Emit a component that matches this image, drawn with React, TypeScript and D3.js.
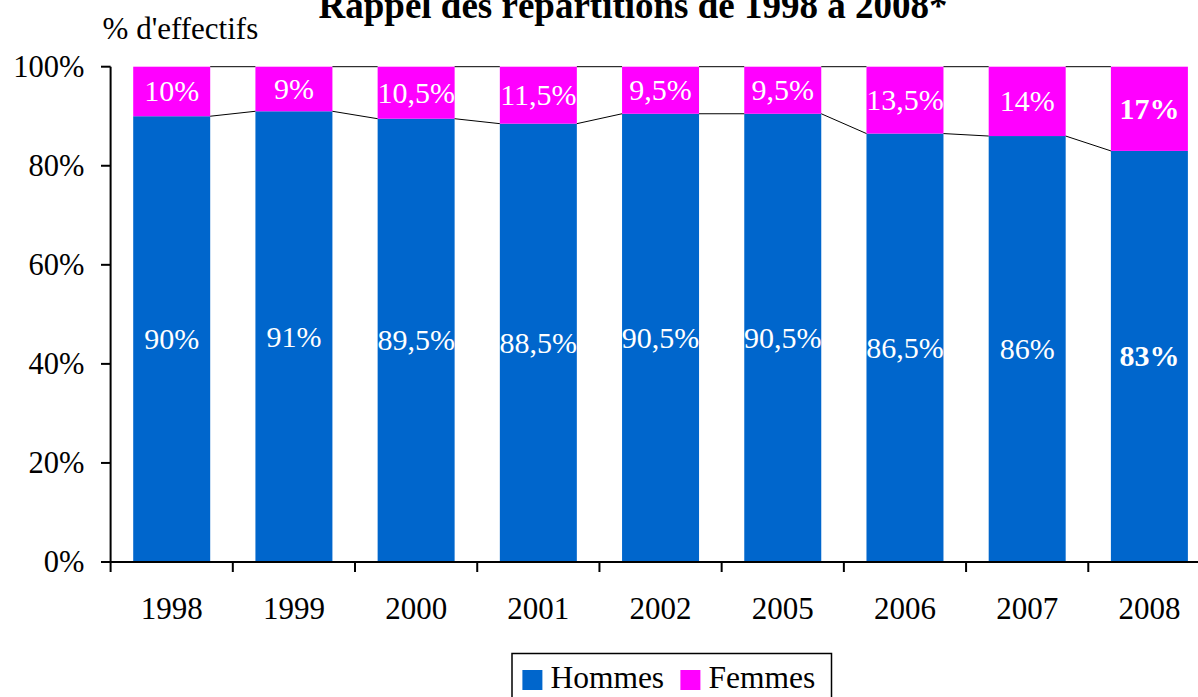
import React, { useEffect, useRef } from 'react';
import * as d3 from 'd3';

const years = ['1998', '1999', '2000', '2001', '2002', '2005', '2006', '2007', '2008'];
const hommes = [90, 91, 89.5, 88.5, 90.5, 90.5, 86.5, 86, 83];
const femmes = [10, 9, 10.5, 11.5, 9.5, 9.5, 13.5, 14, 17];
const yTicks = [0, 20, 40, 60, 80, 100];
const series = ['Hommes', 'Femmes'];
const colors = ['#0066CC', '#FF00FF'];

const fmt = (v: number) => String(v).replace('.', ',') + '%';

const App = () => {
  const ref = useRef<HTMLDivElement | null>(null);

  useEffect(() => {
    if (!ref.current) return;
    d3.select(ref.current).selectAll('*').remove();

    const W = 1198;
    const H = 697;
    const font = '"Liberation Serif", "Times New Roman", serif';

    const svg = d3
      .select(ref.current)
      .append('svg')
      .attr('width', W)
      .attr('height', H)
      .style('position', 'absolute')
      .style('left', 0)
      .style('top', 0)
      .style('font-family', font);

    const x = d3.scaleBand().domain(years).range([110.6, 1210.5]).paddingInner(0.37).paddingOuter(0.185);
    const y = d3.scaleLinear().domain([0, 100]).range([562, 66.7]);
    const bw = x.bandwidth();
    const gap = (x.step() - bw) / 2;

    // title (cut at the top like the original)
    svg
      .append('text')
      .attr('x', 633)
      .attr('y', 18)
      .attr('text-anchor', 'middle')
      .style('font-size', '37px')
      .style('font-weight', 'bold')
      .text('Rappel des répartitions de 1998 à 2008*');

    svg
      .append('text')
      .attr('x', 102.6)
      .attr('y', 39)
      .style('font-size', '31px')
      .text("% d'effectifs");

    // bars
    const rows = years.map((yr, i) => ({ yr, h: hommes[i], f: femmes[i], bold: yr === '2008' }));

    svg
      .selectAll('.h')
      .data(rows)
      .join('rect')
      .attr('x', d => x(d.yr)!)
      .attr('y', d => y(d.h))
      .attr('width', bw)
      .attr('height', d => y(0) - y(d.h))
      .attr('fill', colors[0]);

    svg
      .selectAll('.f')
      .data(rows)
      .join('rect')
      .attr('x', d => x(d.yr)!)
      .attr('y', d => y(d.h + d.f))
      .attr('width', bw)
      .attr('height', d => y(d.h) - y(d.h + d.f))
      .attr('fill', colors[1]);

    // series lines between bars
    const lines = svg.append('g').attr('stroke', '#000').attr('stroke-width', 1).attr('fill', 'none');
    rows.slice(0, -1).forEach((d, i) => {
      const n = rows[i + 1];
      lines
        .append('line')
        .attr('x1', x(d.yr)! + bw)
        .attr('x2', x(n.yr)!)
        .attr('y1', y(d.h))
        .attr('y2', y(n.h));
      lines
        .append('line')
        .attr('x1', x(d.yr)! + bw)
        .attr('x2', x(n.yr)!)
        .attr('y1', y(d.h + d.f))
        .attr('y2', y(n.h + n.f));
    });

    // labels
    const lab = svg.append('g').attr('fill', '#fff').attr('text-anchor', 'middle').style('font-size', '30px');
    rows.forEach(d => {
      const cx = x(d.yr)! + bw / 2;
      lab
        .append('text')
        .attr('x', cx)
        .attr('y', (y(0) + y(d.h)) / 2 + 10)
        .style('font-weight', d.bold ? 'bold' : 'normal')
        .text(fmt(d.h));
      lab
        .append('text')
        .attr('x', cx)
        .attr('y', (y(d.h) + y(d.h + d.f)) / 2 + 10)
        .style('font-weight', d.bold ? 'bold' : 'normal')
        .text(fmt(d.f));
    });

    // y axis
    const ax = svg.append('g').attr('stroke', '#000').attr('stroke-width', 2);
    ax.append('line').attr('x1', 110.6).attr('x2', 110.6).attr('y1', y(100)).attr('y2', y(0));
    yTicks.forEach(t => {
      ax.append('line').attr('x1', 101).attr('x2', 110.6).attr('y1', y(t)).attr('y2', y(t));
    });
    svg
      .selectAll('.yt')
      .data(yTicks)
      .join('text')
      .attr('x', 84.5)
      .attr('y', d => y(d) + 10)
      .attr('text-anchor', 'end')
      .style('font-size', '30.5px')
      .text(d => d + '%');

    // x axis
    ax.append('line').attr('x1', 110.6).attr('x2', 1210.5).attr('y1', y(0)).attr('y2', y(0));
    years.forEach(yr => {
      const bx = x(yr)! - gap;
      ax.append('line').attr('x1', bx).attr('x2', bx).attr('y1', y(0)).attr('y2', y(0) + 10);
    });
    svg
      .selectAll('.xt')
      .data(years)
      .join('text')
      .attr('x', d => x(d)! + bw / 2)
      .attr('y', 619)
      .attr('text-anchor', 'middle')
      .style('font-size', '31px')
      .text(d => d);

    // legend
    const lg = svg.append('g');
    lg.append('rect')
      .attr('x', 512)
      .attr('y', 653.5)
      .attr('width', 319.5)
      .attr('height', 60)
      .attr('fill', '#fff')
      .attr('stroke', '#000')
      .attr('stroke-width', 1.5);
    const lx = [522.4, 680.4];
    series.forEach((s, i) => {
      lg.append('rect').attr('x', lx[i]).attr('y', 670).attr('width', 20).attr('height', 20).attr('fill', colors[i]);
      lg.append('text')
        .attr('x', lx[i] + 28)
        .attr('y', 688)
        .style('font-size', '31.5px')
        .text(s);
    });
  }, []);

  return <div ref={ref}></div>;
};

export default App;
